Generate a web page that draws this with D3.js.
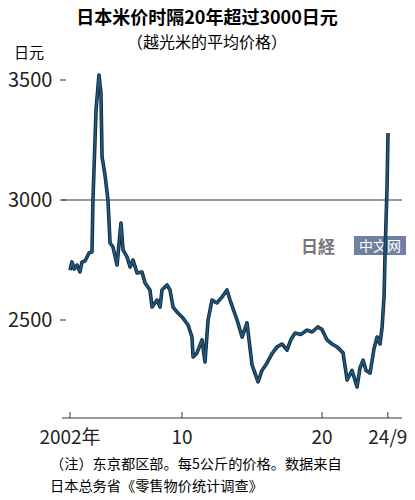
<!DOCTYPE html><html><head><meta charset="utf-8"><script src="https://d3js.org/d3.v7.min.js"></script>
<style>body{margin:0;background:#fff}text{font-family:"Noto Sans CJK SC","Noto Sans",sans-serif}</style></head><body><svg id="c" width="415" height="500"></svg><script>
const xPix=[70,72,74,77,80,82,85,89,92,93,96,99,101,102,105,108,110,113,117,121,123,127,130,133,137,142,145,150,152,157,160,162,167,170,173,178,183,188,192,193,197,202,205,208,212,217,222,227,230,237,242,247,252,258,262,267,272,277,282,287,291,295,301,307,312,318,322,327,332,337,343,347,352,357,360,363,366,370,374,377,380,382,384,385,387,388];
const years=xPix.map(x=>+(2002+(x-70)/14).toFixed(2));
const values=[2708,2742,2712,2729,2700,2742,2746,2779,2783,3000,3375,3521,3446,3179,3104,3000,2821,2804,2729,2904,2792,2763,2721,2750,2696,2700,2654,2625,2554,2583,2554,2625,2646,2625,2554,2529,2508,2479,2429,2346,2363,2417,2325,2500,2583,2571,2596,2625,2583,2500,2429,2488,2313,2242,2290,2321,2360,2388,2400,2375,2420,2446,2440,2458,2450,2471,2460,2417,2400,2388,2363,2250,2290,2221,2300,2333,2290,2279,2380,2429,2400,2471,2600,2779,3050,3279];
const yTicks=[2500,3000,3500];
const xTicks=[2002,2010,2020,2024.7];
const xTickLabels=["2002年","10","20","24/9"];
const svg=d3.select("#c");
const x=d3.scaleLinear().domain([2002,2024.71]).range([70,388]);
const y=d3.scaleLinear().domain([2500,3500]).range([320,80]);
svg.append("text").attr("x",207).attr("y",24).attr("text-anchor","middle").attr("font-size",18).attr("font-weight","bold").text("日本米价时隔20年超过3000日元");
svg.append("text").attr("x",207).attr("y",48).attr("text-anchor","middle").attr("font-size",16).text("（越光米的平均价格）");
svg.append("text").attr("x",14).attr("y",58).attr("font-size",15).text("日元");
yTicks.forEach(t=>{svg.append("text").attr("x",8).attr("y",y(t)+7).attr("font-size",20).attr("fill","#222").text(t);
 svg.append("line").attr("x1",60).attr("x2",66).attr("y1",y(t)).attr("y2",y(t)).attr("stroke","#333");});
svg.append("line").attr("x1",62).attr("x2",402).attr("y1",y(3000)).attr("y2",y(3000)).attr("stroke","#333").attr("stroke-width",1.2);
svg.append("line").attr("x1",62).attr("x2",402).attr("y1",418).attr("y2",418).attr("stroke","#333").attr("stroke-width",1.2);
xTicks.forEach((t,i)=>{svg.append("line").attr("x1",x(t)).attr("x2",x(t)).attr("y1",412).attr("y2",418).attr("stroke","#333");
 svg.append("text").attr("x",x(t)).attr("y",444).attr("text-anchor","middle").attr("font-size",19).attr("fill","#222").text(xTickLabels[i]);});
svg.append("text").attr("x",318).attr("y",253).attr("text-anchor","middle").attr("font-size",17).attr("font-weight","bold").attr("fill","#777").text("日経");
svg.append("rect").attr("x",354).attr("y",236).attr("width",52).attr("height",19).attr("fill","#6f80a3");
svg.append("text").attr("x",380).attr("y",251).attr("text-anchor","middle").attr("font-size",14).attr("fill","#fff").text("中文网");
const data=years.map((d,i)=>[d,values[i]]);
const line=d3.line().x(d=>x(d[0])).y(d=>y(d[1]));
svg.append("path").datum(data).attr("d",line).attr("fill","none").attr("stroke","#0e2a3d").attr("stroke-width",3.6).attr("stroke-linejoin","round");
svg.append("path").datum(data).attr("d",line).attr("fill","none").attr("stroke","#21587c").attr("stroke-width",1.8).attr("stroke-linejoin","round");
svg.append("text").attr("x",50).attr("y",469).attr("font-size",14.2).text("（注）东京都区部。每5公斤的价格。数据来自");
svg.append("text").attr("x",50).attr("y",491).attr("font-size",14.2).text("日本总务省《零售物价统计调查》");
</script></body></html>
